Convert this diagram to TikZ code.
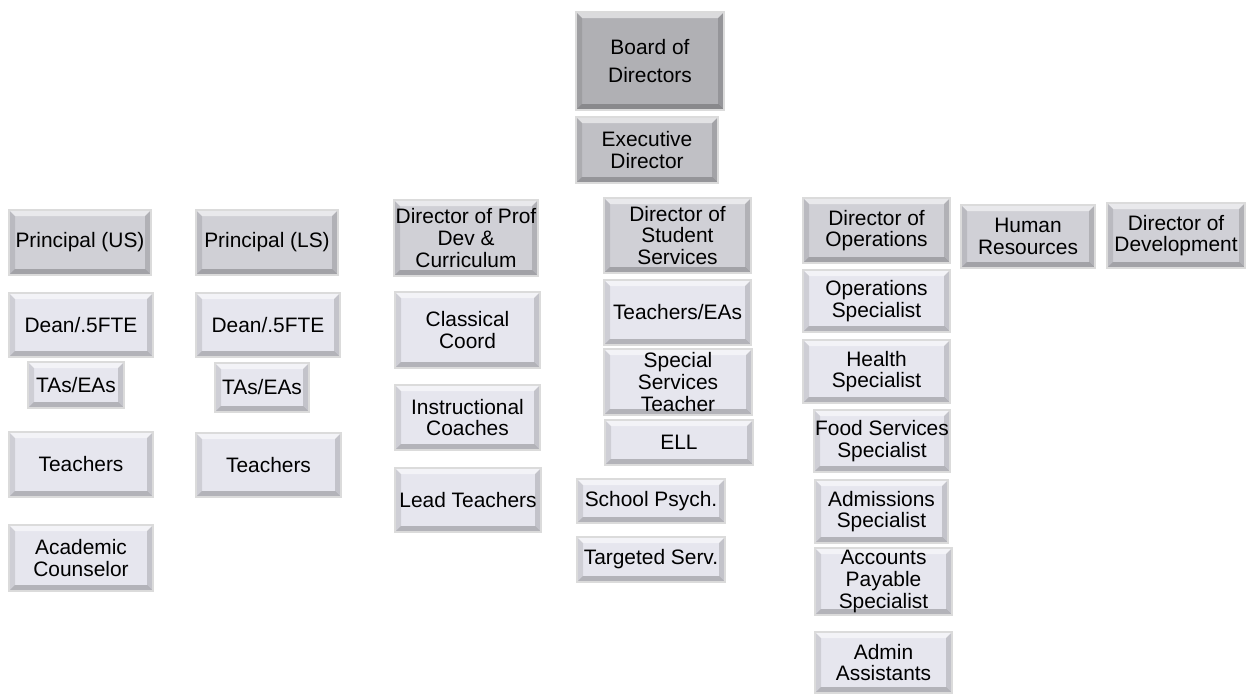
\documentclass[tikz,border=0pt]{standalone}
\usepackage{fontspec}
\setmainfont{Liberation Sans}
\usetikzlibrary{calc}
\definecolor{boardc}{RGB}{176,176,180}
\definecolor{execc}{RGB}{192,192,197}
\definecolor{headc}{RGB}{208,208,214}
\definecolor{staffc}{RGB}{230,230,238}
\def\bev{6}
\def\orgbox(#1,#2,#3,#4,#5,#6,#7){
  \node[orgbg, fill=#6, minimum width={(#4-#2)*0.02cm}, minimum height={(#5-#3)*0.02cm}] (#1) at ({(#2+#4)/2},{(#3+#5)/2}) {};
  \fill[white, opacity=0.55] (#1.north west) -- (#1.north east) -- ++(-\bev,\bev) -- ($(#1.north west)+(\bev,\bev)$) -- cycle;
  \fill[black, opacity=0.10] (#1.north west) -- ($(#1.north west)+(\bev,\bev)$) -- ($(#1.south west)+(\bev,-\bev)$) -- (#1.south west) -- cycle;
  \fill[black, opacity=0.22] (#1.south west) -- (#1.south east) -- ++(-\bev,-\bev) -- ($(#1.south west)+(\bev,-\bev)$) -- cycle;
  \fill[black, opacity=0.15] (#1.north east) -- ($(#1.north east)+(-\bev,\bev)$) -- ($(#1.south east)+(-\bev,-\bev)$) -- (#1.south east) -- cycle;
  \draw[black!14, line width=0.7pt] (#1.north west) rectangle (#1.south east);
  \node[orgtxt] (#1t) at (#1) {#7};
}

\begin{document}
\begin{tikzpicture}[x=0.02cm, y=-0.02cm,
  orgbg/.style={rectangle, inner sep=0pt, outer sep=0pt},
  orgtxt/.style={align=center, inner sep=0pt, font=\fontsize{11.9}{12.3}\selectfont}]
\useasboundingbox (0,0) rectangle (1246,694);
\orgbox(board,576,12,724,110,boardc,{Board of\\[4pt]Directors})
\orgbox(exec,576,117,718,183,execc,{Executive\\Director})
\orgbox(prinus,9,210,151,275,headc,{Principal (US)})
\orgbox(deanus,9,293,153,357,staffc,{Dean/.5FTE})
\orgbox(taus,28,362,124,408,staffc,{TAs/EAs})
\orgbox(teachus,9,432,153,497,staffc,{Teachers})
\orgbox(counsel,9,525,153,591,staffc,{Academic\\Counselor})
\orgbox(prinls,196,210,338,275,headc,{Principal (LS)})
\orgbox(deanls,196,293,340,357,staffc,{Dean/.5FTE})
\orgbox(tals,215,363,309,412,staffc,{TAs/EAs})
\orgbox(teachls,196,433,341,497,staffc,{Teachers})
\orgbox(profdev,394,200,538,276,headc,{Director of Prof\\Dev \&\\Curriculum})
\orgbox(classical,395,292,540,368,staffc,{Classical\\Coord})
\orgbox(coaches,395,385,540,450,staffc,{Instructional\\Coaches})
\orgbox(lead,395,468,541,532,staffc,{Lead Teachers})
\orgbox(studserv,604,198,751,273,headc,{Director of\\Student\\Services})
\orgbox(teachea,604,280,751,345,staffc,{Teachers/EAs})
\orgbox(special,604,349,752,415,staffc,{Special\\Services\\Teacher})
\orgbox(ell,605,420,753,465,staffc,{ELL})
\orgbox(psych,577,479,725,523,staffc,{School Psych.})
\orgbox(targeted,577,537,725,582,staffc,{Targeted Serv.})
\orgbox(operations,803,198,950,263,headc,{Director of\\Operations})
\orgbox(hr,961,205,1095,268,headc,{Human\\Resources})
\orgbox(develop,1107,203,1245,268,headc,{Director of\\Development})
\orgbox(opspec,803,270,950,332,staffc,{Operations\\Specialist})
\orgbox(health,803,340,950,403,staffc,{Health\\Specialist})
\orgbox(food,814,410,950,472,staffc,{Food Services\\Specialist})
\orgbox(admiss,815,480,948,543,staffc,{Admissions\\Specialist})
\orgbox(accounts,815,548,952,615,staffc,{Accounts\\Payable\\Specialist})
\orgbox(admin,815,632,952,693,staffc,{Admin\\Assistants})
\end{tikzpicture}
\end{document}
